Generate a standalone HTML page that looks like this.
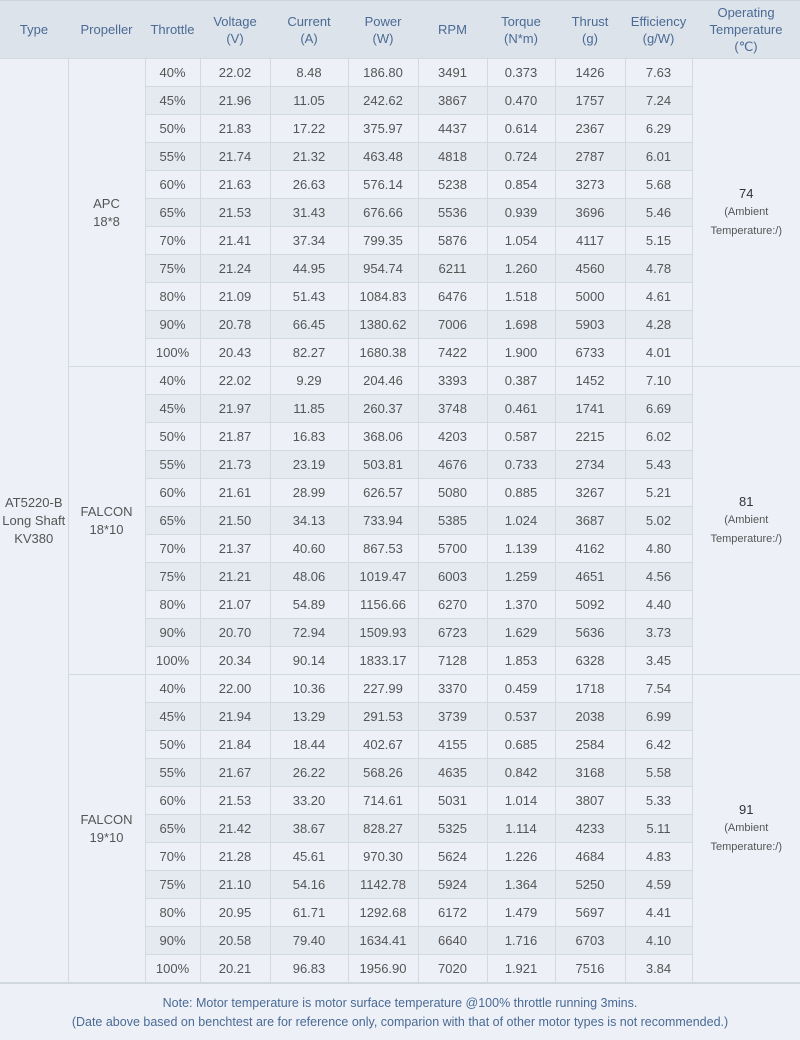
<!DOCTYPE html>
<html><head><meta charset="utf-8"><style>
body{margin:0;width:800px;height:1040px;background:#edf1f7;font-family:"Liberation Sans",sans-serif;overflow:hidden}
table{border-collapse:collapse;table-layout:fixed;width:800px}
th{background:#dde3ea;color:#4a6a95;font-weight:normal;font-size:13px;height:57px;line-height:17px;padding:0;border-top:1px solid #d0d6de}
td{color:#555;font-size:13px;height:27px;padding:0;text-align:center;border:1px solid #d3d9e1;background:#edf1f7}
tr.d td.v{background:#e5eaf1}
td.s{vertical-align:middle;line-height:18px}
td.t{color:#333;line-height:17px}
td.t small{font-size:11px;color:#555}
.note{height:56px;color:#4a6a95;font-size:12.5px;text-align:center;line-height:19px;padding-top:10px;box-sizing:border-box;border-top:1px solid #d0d6de}
</style></head><body>
<table>
<colgroup><col style="width:68px"><col style="width:77px"><col style="width:55px"><col style="width:70px"><col style="width:78px"><col style="width:70px"><col style="width:69px"><col style="width:68px"><col style="width:70px"><col style="width:67px"><col style="width:108px"></colgroup>
<tr><th>Type</th><th>Propeller</th><th>Throttle</th><th>Voltage<br>(V)</th><th>Current<br>(A)</th><th>Power<br>(W)</th><th>RPM</th><th>Torque<br>(N*m)</th><th>Thrust<br>(g)</th><th>Efficiency<br>(g/W)</th><th>Operating<br>Temperature<br>(℃)</th></tr>
<tbody id="b"></tbody>
</table>
<div class="note">Note: Motor temperature is motor surface temperature @100% throttle running 3mins.<br>(Date above based on benchtest are for reference only, comparion with that of other motor types is not recommended.)</div>
<script>
var g=[["APC<br>18*8","74",[
"40%|22.02|8.48|186.80|3491|0.373|1426|7.63","45%|21.96|11.05|242.62|3867|0.470|1757|7.24","50%|21.83|17.22|375.97|4437|0.614|2367|6.29","55%|21.74|21.32|463.48|4818|0.724|2787|6.01","60%|21.63|26.63|576.14|5238|0.854|3273|5.68","65%|21.53|31.43|676.66|5536|0.939|3696|5.46","70%|21.41|37.34|799.35|5876|1.054|4117|5.15","75%|21.24|44.95|954.74|6211|1.260|4560|4.78","80%|21.09|51.43|1084.83|6476|1.518|5000|4.61","90%|20.78|66.45|1380.62|7006|1.698|5903|4.28","100%|20.43|82.27|1680.38|7422|1.900|6733|4.01"]],
["FALCON<br>18*10","81",[
"40%|22.02|9.29|204.46|3393|0.387|1452|7.10","45%|21.97|11.85|260.37|3748|0.461|1741|6.69","50%|21.87|16.83|368.06|4203|0.587|2215|6.02","55%|21.73|23.19|503.81|4676|0.733|2734|5.43","60%|21.61|28.99|626.57|5080|0.885|3267|5.21","65%|21.50|34.13|733.94|5385|1.024|3687|5.02","70%|21.37|40.60|867.53|5700|1.139|4162|4.80","75%|21.21|48.06|1019.47|6003|1.259|4651|4.56","80%|21.07|54.89|1156.66|6270|1.370|5092|4.40","90%|20.70|72.94|1509.93|6723|1.629|5636|3.73","100%|20.34|90.14|1833.17|7128|1.853|6328|3.45"]],
["FALCON<br>19*10","91",[
"40%|22.00|10.36|227.99|3370|0.459|1718|7.54","45%|21.94|13.29|291.53|3739|0.537|2038|6.99","50%|21.84|18.44|402.67|4155|0.685|2584|6.42","55%|21.67|26.22|568.26|4635|0.842|3168|5.58","60%|21.53|33.20|714.61|5031|1.014|3807|5.33","65%|21.42|38.67|828.27|5325|1.114|4233|5.11","70%|21.28|45.61|970.30|5624|1.226|4684|4.83","75%|21.10|54.16|1142.78|5924|1.364|5250|4.59","80%|20.95|61.71|1292.68|6172|1.479|5697|4.41","90%|20.58|79.40|1634.41|6640|1.716|6703|4.10","100%|20.21|96.83|1956.90|7020|1.921|7516|3.84"]]];
var h="";
g.forEach(function(x,gi){x[2].forEach(function(r,i){
h+='<tr class="'+(i%2?'d':'')+'">';
if(gi==0&&i==0)h+='<td class="s" rowspan="33" style="border-left:none">AT5220-B<br>Long Shaft<br>KV380</td>';
if(i==0)h+='<td class="s" rowspan="11">'+x[0]+'</td>';
r.split("|").forEach(function(c){h+='<td class="v">'+c+'</td>';});
if(i==0)h+='<td class="s t" rowspan="11" style="border-right:none">'+x[1]+'<br><small>(Ambient<br>Temperature:/)</small></td>';
h+='</tr>';});});
document.getElementById("b").innerHTML=h;
</script>
</body></html>
